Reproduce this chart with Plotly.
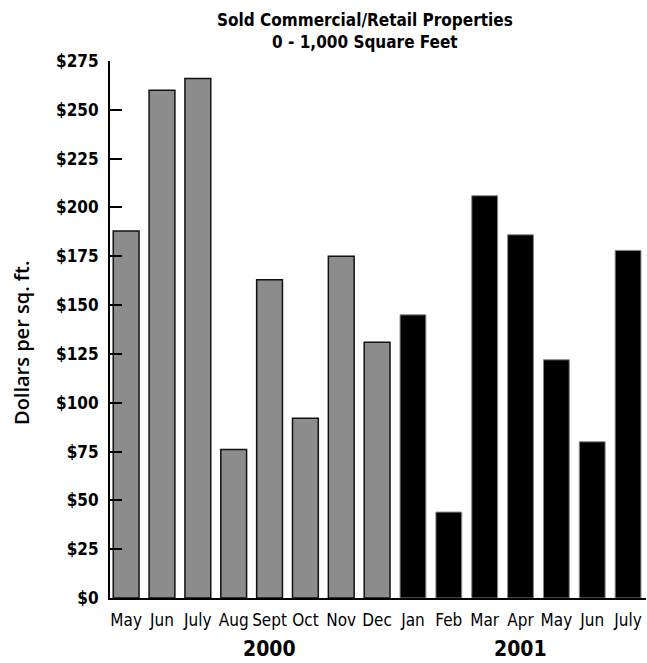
import plotly.graph_objects as go

months = ["May", "Jun", "July", "Aug", "Sept", "Oct", "Nov", "Dec",
          "Jan", "Feb", "Mar", "Apr", "May", "Jun", "July"]
values_2000 = [188, 260, 266, 76, 163, 92, 175, 131]
values_2001 = [145, 44, 206, 186, 122, 80, 178]
year_labels = ["2000", "2001"]
y_ticks = [0, 25, 50, 75, 100, 125, 150, 175, 200, 225, 250, 275]

FONT = "DejaVu Sans Condensed, Liberation Sans, sans-serif"

x_2000 = list(range(len(values_2000)))
x_2001 = list(range(len(values_2000), len(months)))

fig = go.Figure()
fig.add_trace(go.Bar(
    x=x_2000, y=values_2000,
    marker=dict(color="#8c8c8c", line=dict(color="#111111", width=1.5)),
    width=0.72, name="2000",
))
fig.add_trace(go.Bar(
    x=x_2001, y=values_2001,
    marker=dict(color="#000000", line=dict(color="#888888", width=1)),
    width=0.72, name="2001",
))

fig.update_layout(
    width=647, height=663,
    margin=dict(l=110, r=1, t=61, b=65),
    plot_bgcolor="white", paper_bgcolor="white",
    showlegend=False,
    xaxis=dict(
        tickvals=list(range(len(months))), ticktext=months,
        range=[-0.45, 14.5], tickangle=0,
        showline=True, linecolor="black", linewidth=2,
        showgrid=False, zeroline=False, ticks="",
        tickfont=dict(family=FONT, size=17, color="black"),
        ticklabelstandoff=6,
    ),
    yaxis=dict(
        range=[0, 275], tickvals=y_ticks,
        ticktext=[f"<b>${v}</b>" for v in y_ticks],
        showline=True, linecolor="black", linewidth=2,
        ticks="inside", ticklen=12, tickwidth=2, tickcolor="black",
        showgrid=False, zeroline=False,
        tickfont=dict(family=FONT, size=17, color="black"),
        ticklabelstandoff=6,
    ),
)

# title placed as an annotation so both lines sit where the original has them
fig.add_annotation(
    text="<b>Sold Commercial/Retail Properties<br>0 - 1,000 Square Feet</b>",
    xref="paper", yref="paper", x=0.476, y=1.056,
    xanchor="center", yanchor="middle", showarrow=False,
    font=dict(family=FONT, size=17, color="black"),
)
fig.add_annotation(
    text="Dollars per sq. ft.", textangle=-90,
    xref="paper", yref="paper", x=-0.164, y=0.475,
    xanchor="center", yanchor="middle", showarrow=False,
    font=dict(family="Open Sans, sans-serif", size=20, color="black", weight=600),
)
for label, xpos in zip(year_labels, [4.0, 11.0]):
    fig.add_annotation(
        text=f"<b>{label}</b>", xref="x", yref="paper", x=xpos, y=-0.095,
        xanchor="center", yanchor="middle", showarrow=False,
        font=dict(family=FONT, size=21, color="black"),
    )

fig.write_html("out.html", config={"displayModeBar": False},
               post_script="document.body.style.margin='0';")
